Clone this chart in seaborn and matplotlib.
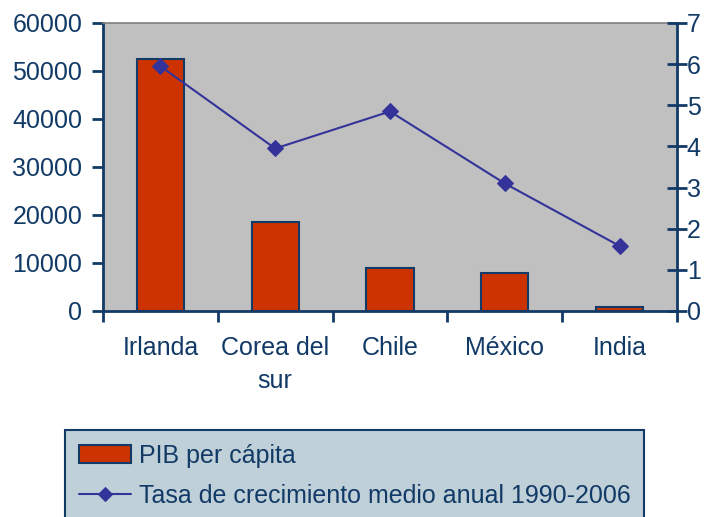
import numpy as np
import pandas as pd
import matplotlib
matplotlib.use("Agg")
import matplotlib.pyplot as plt
import seaborn as sns

categories = ["Irlanda", "Corea del\nsur", "Chile", "México", "India"]
pib = [52500, 18500, 8900, 7900, 800]
growth = [5.95, 3.95, 4.85, 3.1, 1.58]
left_ticks = [0, 10000, 20000, 30000, 40000, 50000, 60000]
right_ticks = [0, 1, 2, 3, 4, 5, 6, 7]

sns.set_theme(style="white")
plt.rcParams['font.family'] = ['Liberation Sans', 'DejaVu Sans']

navy = "#123a66"
fs = 18
fig = plt.figure(figsize=(7.13, 5.17), dpi=100)
ax = fig.add_axes([103/713, 1-311/517, (677-103)/713, (311-23)/517])
ax.set_facecolor("#c0c0c0")

df = pd.DataFrame({"pais": categories, "pib": pib})
sns.barplot(data=df, x="pais", y="pib", ax=ax, color="#cc3300", width=0.41,
            edgecolor=navy, linewidth=1.5, saturation=1, label="PIB per cápita")
if ax.get_legend() is not None:
    ax.get_legend().remove()
ax.set_ylim(0, 60000)
ax.set_xlim(-0.5, 4.5)
ax.set_yticks(left_ticks)
ax.set_xlabel("")
ax.set_ylabel("")

ax2 = ax.twinx()
sns.lineplot(x=np.arange(len(categories)), y=growth, ax=ax2, color="#333399",
             marker="D", markersize=8, markeredgecolor="#333399", linewidth=1.5,
             label="Tasa de crecimiento medio anual 1990-2006", legend=False)
if ax2.get_legend() is not None:
    ax2.get_legend().remove()
ax2.set_ylim(0, 7)
ax2.set_yticks(right_ticks)
ax2.set_xlim(-0.5, 4.5)

for a in (ax, ax2):
    for s in a.spines.values():
        s.set_visible(False)
ax.spines["left"].set_visible(True)
ax.spines["left"].set_color(navy)
ax.spines["left"].set_linewidth(2)
ax.spines["bottom"].set_visible(True)
ax.spines["bottom"].set_color(navy)
ax.spines["bottom"].set_linewidth(2)
ax.spines["top"].set_visible(True)
ax.spines["top"].set_color("#808080")
ax.spines["top"].set_linewidth(1.2)
ax2.spines["right"].set_visible(True)
ax2.spines["right"].set_color(navy)
ax2.spines["right"].set_linewidth(2)

ax.tick_params(axis="y", direction="out", length=8, width=2, color=navy,
               labelcolor=navy, labelsize=fs, pad=7, left=True)
ax2.tick_params(axis="y", direction="inout", length=14, width=2, color=navy,
                labelcolor=navy, labelsize=fs, pad=0, right=True)
ax.set_xticks(range(len(categories)))
ax.set_xticklabels(categories)
ax.tick_params(axis="x", length=0, labelcolor=navy, labelsize=fs, pad=18)
ax.set_xticks(np.arange(-0.5, 5, 1), minor=True)
ax.tick_params(axis="x", which="minor", direction="out", length=8, width=2,
               color=navy, bottom=True)
for t in ax.get_xticklabels():
    t.set_linespacing(1.5)

h1, l1 = ax.get_legend_handles_labels()
h2, l2 = ax2.get_legend_handles_labels()
leg = fig.legend(h1 + h2, l1 + l2, loc="upper left",
                 bbox_to_anchor=(65/713, 1-430/517), fontsize=fs,
                 frameon=True, facecolor="#c0d0d8", edgecolor=navy,
                 fancybox=False, framealpha=1, handlelength=2.1,
                 handletextpad=0.3, borderpad=0.55, labelspacing=0.65,
                 borderaxespad=0, markerscale=0.9)
leg.get_frame().set_linewidth(1.5)
for t in leg.get_texts():
    t.set_color(navy)

fig.savefig("out.png", dpi=100)
